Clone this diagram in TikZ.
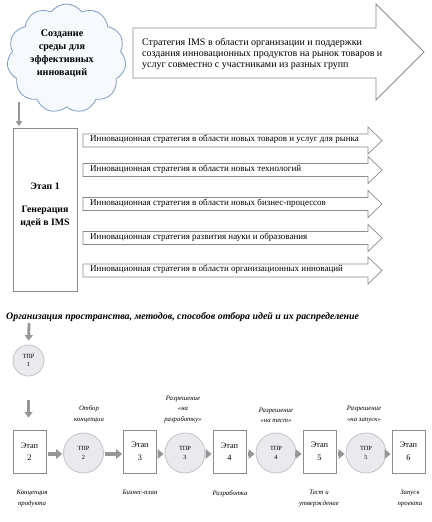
\documentclass[tikz,border=0pt]{standalone}
\usepackage{fontspec}
\setmainfont{Liberation Serif}
\usetikzlibrary{shapes.symbols,arrows.meta}
\definecolor{bordergray}{RGB}{140,140,140}
\definecolor{arrowgray}{RGB}{150,150,150}
\definecolor{cloudline}{RGB}{125,155,195}
\definecolor{cloudfill}{RGB}{246,249,253}
\definecolor{circfill}{RGB}{233,233,238}
\definecolor{circline}{RGB}{195,195,200}
\tikzset{
  stratarrow/.style={draw=bordergray,line width=0.7pt,fill=white},
  strattext/.style={anchor=west,inner sep=0pt,font=\fontsize{9}{10}\selectfont},
  stagebox/.style={draw=bordergray,line width=0.8pt,fill=white,minimum width=33pt,minimum height=43pt,inner sep=0pt,align=center,font=\fontsize{8.3}{12.5}\selectfont},
  tprcircle/.style={circle,draw=circline,line width=0.8pt,fill=circfill,minimum size=40pt,inner sep=0pt,align=center,font=\fontsize{6.3}{8.5}\selectfont},
  smalllabel/.style={align=center,inner sep=0pt,font=\fontsize{6.8}{10.5}\selectfont\itshape},
  garrow/.style={draw=arrowgray,line width=3.5pt,-{Triangle[width=9.5pt,length=6pt]}},
  thinarrow/.style={draw=arrowgray,line width=2pt,-{Triangle[width=6.5pt,length=5pt]}},
}
\begin{document}
\begin{tikzpicture}[x=1pt,y=-1pt]
\useasboundingbox (0,0) rectangle (431,522);
% cloud
\node[cloud,cloud puffs=11,cloud puff arc=110,draw=cloudline,fill=cloudfill,line width=0.8pt,minimum width=119pt,minimum height=109pt,inner sep=0pt] (cloud) at (66.5,58.5) {};
\node[align=center,inner sep=0pt,font=\fontsize{10.1}{13.3}\selectfont\bfseries] (cloudtext) at (62,53.5) {Создание\\среды для\\эффективных\\инноваций};
% big arrow
\draw[stratarrow,line width=0.8pt] (133,28) -- (376,28) -- (376,4) -- (424,52) -- (376,100) -- (376,78) -- (133,78) -- cycle;
\node[anchor=west,align=left,inner sep=0pt,font=\fontsize{10}{11.3}\selectfont] (bigtext) at (142,54) {Стратегия IMS в области организации и поддержки\\создания инновационных продуктов на рынок товаров и\\услуг совместно с участниками из разных групп};
% stage 1
\node[draw=bordergray,line width=0.8pt,fill=white,minimum width=64pt,minimum height=163pt,inner sep=0pt] (e1) at (45,209.5) {};
\node[align=center,inner sep=0pt,font=\fontsize{9.8}{13}\selectfont\bfseries] (e1text) at (45,205) {Этап 1\\[10pt]Генерация\\идей в IMS};
\coordinate (ca) at (19,102);
\coordinate (cb) at (19,126);
\draw[thinarrow] (ca) -- (cb);
% strategy arrows
\foreach \c/\t [count=\i] in {140.5/{Инновационная стратегия в области новых товаров и услуг для рынка},
  170/{Инновационная стратегия в области новых технологий},
  204/{Инновационная стратегия в области новых бизнес-процессов},
  238/{Инновационная стратегия развития науки и образования},
  270.5/{Инновационная стратегия в области организационных инноваций}}{
  \draw[stratarrow] (83,\c-6.5) -- (368,\c-6.5) -- (368,\c-13.5) -- (382,\c) -- (368,\c+13.5) -- (368,\c+6.5) -- (83,\c+6.5) -- cycle;
  \node[strattext] (s\i) at (90,\c-0.8) {\t};
}
% title
\node[anchor=west,inner sep=0pt,font=\fontsize{9.9}{10}\selectfont\bfseries\itshape] (title) at (6,317) {Организация пространства, методов, способов отбора идей и их распределение};
\coordinate (ta) at (29,323);
\node[tprcircle,minimum size=31pt] (t1) at (28.5,360.5) {ТПР\\1};
\draw[garrow,line width=2.8pt,-{Triangle[width=8pt,length=5.5pt]},shorten >=4pt] (ta) -- (t1.north) ;
% bottom row
\node[stagebox] (e2) at (29.5,451.5) {Этап\\2};
\node[stagebox] (e3) at (140,451.5) {Этап\\3};
\node[stagebox] (e4) at (229.5,451.5) {Этап\\4};
\node[stagebox] (e5) at (319.5,451.5) {Этап\\5};
\node[stagebox] (e6) at (408.5,451.5) {Этап\\6};
\node[tprcircle] (t2) at (83.5,453) {ТПР\\2};
\node[tprcircle] (t3) at (185,453) {ТПР\\3};
\node[tprcircle] (t4) at (276,453) {ТПР\\4};
\node[tprcircle] (t5) at (366,453) {ТПР\\5};
\draw[garrow,line width=2.8pt,-{Triangle[width=8pt,length=5.5pt]},shorten <=24pt,shorten >=12pt] (t1.south) -- (t1.south |- e2.north);
\foreach \a/\b in {e2/t2,t2/e3,e3/t3,t3/e4,e4/t4,t4/e5,e5/t5,t5/e6}{
  \draw[garrow,shorten <=1.5pt,shorten >=1pt] (\a.east |- 0,454) -- (\b.west |- 0,454);
}
% labels above
\node[smalllabel,anchor=south] (l2) at (89,423) {Отбор\\концепции};
\node[smalllabel,anchor=south] (l3) at (183,423) {Разрешение\\«на\\разработку»};
\node[smalllabel,anchor=south] (l4) at (276,423) {Разрешение\\«на тест»};
\node[smalllabel,anchor=south] (l5) at (364,423) {Разрешение\\«на запуск»};
% labels below
\node[smalllabel,anchor=north] (b2) at (32,490) {Концепция\\продукта};
\node[smalllabel,anchor=north] (b3) at (140,490) {Бизнес-план};
\node[smalllabel,anchor=north] (b4) at (230,490) {Разработка};
\node[smalllabel,anchor=north] (b5) at (319,490) {Тест и\\утверждение};
\node[smalllabel,anchor=north] (b6) at (410,490) {Запуск\\проекта};
\end{tikzpicture}
\end{document}
